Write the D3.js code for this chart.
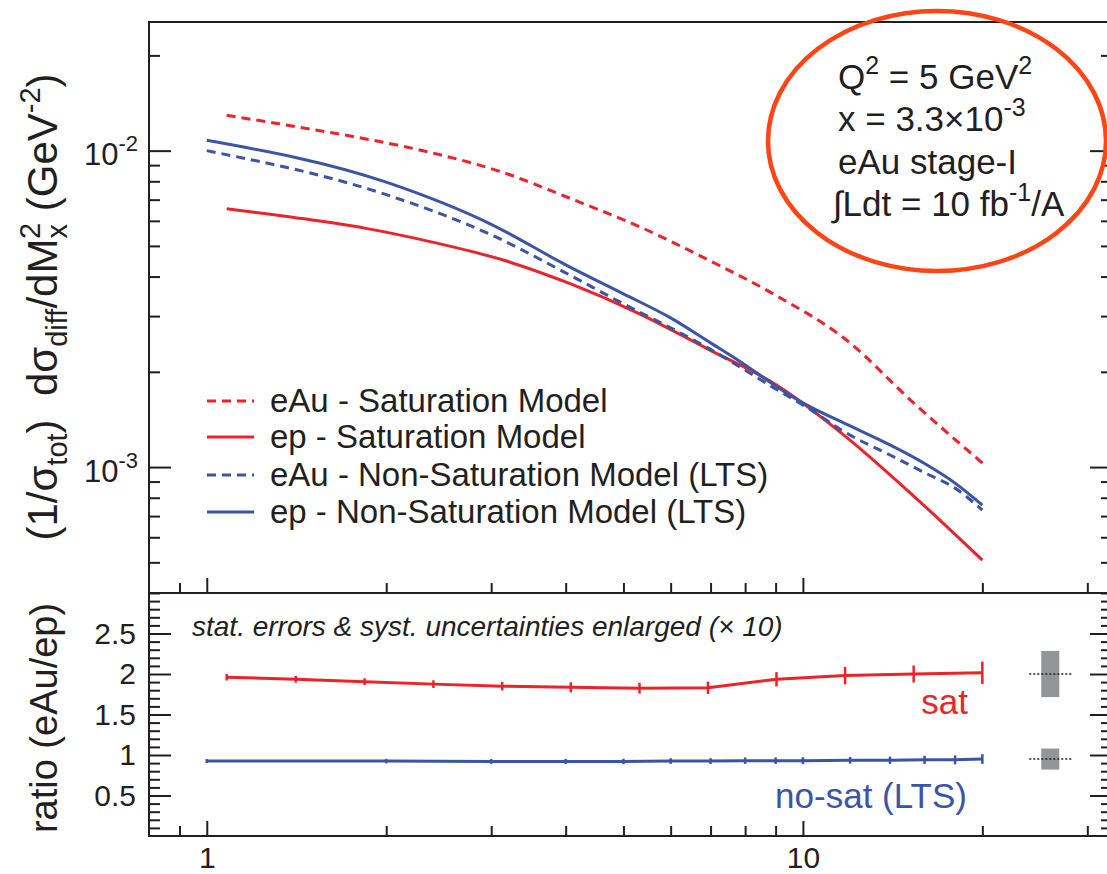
<!DOCTYPE html>
<html>
<head>
<meta charset="utf-8">
<script src="https://cdn.jsdelivr.net/npm/d3@7"></script>
<style>
  html, body { margin: 0; padding: 0; background: #fff; }
  svg { display: block; font-family: "Liberation Sans", Arial, Helvetica, sans-serif; }
  .pre { white-space: pre; }
</style>
</head>
<body>
<svg id="chart" width="1107" height="874"></svg>
<script>
// ---- Diffractive mass spectrum, Q^2 = 5 GeV^2, x = 3.3e-3 ----
// Saturation-model curves are sampled on log-spaced M_X^2 bins
const massSat = [1.08, 1.41, 1.84, 2.40, 3.13, 4.08, 5.32, 6.93, 9.03, 11.77, 15.34, 20];
const eAuSat  = [0.01293, 0.01191, 0.01091, 0.00982, 0.00855, 0.00705, 0.00575, 0.00452, 0.00348, 0.00254, 0.001594, 0.00103];
const epSat   = [0.00655, 0.00614, 0.00569, 0.00513, 0.00452, 0.00379, 0.00305, 0.00236, 0.001817, 0.001253, 0.00081, 0.000508];

// Non-saturation (LTS) curves
const massNoSat = [1, 2, 3, 4, 5, 6, 7, 8, 9, 10, 12, 14, 16, 18, 20];
const eAuNoSat  = [0.0100, 0.00726, 0.00542, 0.00411, 0.00328, 0.002754, 0.002354, 0.002023, 0.001766, 0.001571, 0.001262, 0.001092, 0.00096, 0.000858, 0.000731];
const epNoSat   = [0.01078, 0.00795, 0.00585, 0.004357, 0.003527, 0.002961, 0.002469, 0.002103, 0.001804, 0.001595, 0.001349, 0.001175, 0.001026, 0.00089, 0.000758];

// eAu/ep ratios with enlarged (x10) errors
const ratioSat      = [1.96, 1.935, 1.905, 1.875, 1.85, 1.835, 1.825, 1.83, 1.935, 1.98, 2.0, 2.015];
const ratioSatErr   = [0.04, 0.042, 0.042, 0.047, 0.053, 0.062, 0.066, 0.076, 0.088, 0.108, 0.105, 0.138];
const ratioNoSat    = [0.925, 0.925, 0.92, 0.92, 0.92, 0.925, 0.925, 0.93, 0.93, 0.93, 0.935, 0.935, 0.94, 0.94, 0.95];
const ratioNoSatErr = [0.025, 0.028, 0.03, 0.032, 0.033, 0.035, 0.035, 0.04, 0.04, 0.042, 0.042, 0.045, 0.05, 0.055, 0.06];

// systematic-uncertainty boxes drawn beside the ratios
const sysCenter = [2.0, 0.95];
const sysHalf   = [0.285, 0.13];
const sysMass   = 26;

// tick values
const xMajor = [1, 10];
const xMinor = [0.9, 2, 3, 4, 5, 6, 7, 8, 9, 20, 30];
const yMajor = [1e-3, 1e-2];
const yMinor = [4e-4, 5e-4, 6e-4, 7e-4, 8e-4, 9e-4, 2e-3, 3e-3, 4e-3, 5e-3, 6e-3, 7e-3, 8e-3, 9e-3, 2e-2];
const rMajor = [0.5, 1, 1.5, 2, 2.5];
const rMinor = [0.1,0.2,0.3,0.4,0.6,0.7,0.8,0.9,1.1,1.2,1.3,1.4,1.6,1.7,1.8,1.9,2.1,2.2,2.3,2.4,2.6,2.7,2.8,2.9];

const legendLabels = ["eAu - Saturation Model", "ep - Saturation Model",
                      "eAu - Non-Saturation Model (LTS)", "ep - Non-Saturation Model (LTS)"];

const RED = "#ee2229", BLUE = "#3b54a5", INK = "#231f20", ORANGE = "#ff4416", GREY = "#939598";

const svg = d3.select("#chart");
svg.append("rect").attr("width", 1107).attr("height", 874).attr("fill", "#fff");

const L = 149, R = 1112, T = 22, M = 593, B = 836;
const x  = d3.scaleLog().domain([0.8, 33]).range([L, R]);
const y  = d3.scaleLog().domain([4e-4, 0.0255]).range([M, T]);
const yr = d3.scaleLinear().domain([0, 3]).range([B, M]);

// ---------- upper panel curves ----------
const curve = (xs, ys) => d3.line().curve(d3.curveMonotoneX)
  .x((d, i) => x(xs[i])).y(d => y(d))(ys);

const series = [
  { xs: massSat,   ys: eAuSat,   color: RED,  dash: "9,6" },
  { xs: massSat,   ys: epSat,    color: RED,  dash: null },
  { xs: massNoSat, ys: eAuNoSat, color: BLUE, dash: "9,6" },
  { xs: massNoSat, ys: epNoSat,  color: BLUE, dash: null }
];
series.forEach(s => {
  svg.append("path").attr("d", curve(s.xs, s.ys))
    .attr("fill", "none").attr("stroke", s.color).attr("stroke-width", 3)
    .attr("stroke-dasharray", s.dash);
});

// ---------- ratio panel ----------
const rline = (xs, ys) => d3.line().x((d, i) => x(xs[i])).y(d => yr(d))(ys);
function ratioSeries(xs, ys, errs, color) {
  svg.append("path").attr("d", rline(xs, ys)).attr("fill", "none")
    .attr("stroke", color).attr("stroke-width", 3);
  svg.append("g").selectAll("line").data(ys).join("line")
    .attr("x1", (d, i) => x(xs[i])).attr("x2", (d, i) => x(xs[i]))
    .attr("y1", (d, i) => yr(d - errs[i])).attr("y2", (d, i) => yr(d + errs[i]))
    .attr("stroke", color).attr("stroke-width", 2.5);
}
ratioSeries(massSat, ratioSat, ratioSatErr, RED);
ratioSeries(massNoSat, ratioNoSat, ratioNoSatErr, BLUE);

sysCenter.forEach((c, i) => {
  svg.append("rect")
    .attr("x", x(sysMass) - 9).attr("width", 18)
    .attr("y", yr(c + sysHalf[i])).attr("height", yr(c - sysHalf[i]) - yr(c + sysHalf[i]))
    .attr("fill", GREY);
  svg.append("line")
    .attr("x1", x(sysMass) - 21).attr("x2", x(sysMass) + 21)
    .attr("y1", yr(c)).attr("y2", yr(c))
    .attr("stroke", INK).attr("stroke-width", 1.5).attr("stroke-dasharray", "2,2");
});

// ---------- frame and axes ----------
const frame = svg.append("g").attr("fill", "none").attr("stroke", INK).attr("stroke-width", 2);
frame.append("rect").attr("x", L).attr("y", T).attr("width", R - L).attr("height", B - T);
frame.append("line").attr("x1", L).attr("x2", R).attr("y1", M).attr("y2", M);

function ticks(axis, tx, ty) {
  const g = svg.append("g").attr("transform", `translate(${tx},${ty})`).call(axis);
  g.select(".domain").remove();
  g.selectAll(".tick line").attr("stroke", INK).attr("stroke-width", 2);
  g.selectAll("text").attr("fill", INK).attr("font-family", null);
  return g;
}

// x ticks along both panels
[M, B].forEach(yy => {
  ticks(d3.axisBottom(x).tickValues(xMinor).tickSize(-10).tickFormat(""), 0, yy);
});
ticks(d3.axisBottom(x).tickValues(xMajor).tickSize(-15).tickFormat(""), 0, M);
const xLab = ticks(d3.axisBottom(x).tickValues(xMajor).tickSize(-15).tickPadding(11)
  .tickFormat(d3.format("d")), 0, B);
xLab.selectAll("text").attr("font-size", 30);

// y ticks of the spectrum panel (left and right)
ticks(d3.axisLeft(y).tickValues(yMinor).tickSize(-11).tickFormat(""), L, 0);
ticks(d3.axisRight(y).tickValues(yMinor).tickSize(-11).tickFormat(""), R, 0);
ticks(d3.axisRight(y).tickValues(yMajor).tickSize(-22).tickFormat(""), R, 0);
const yLab = ticks(d3.axisLeft(y).tickValues(yMajor).tickSize(-22).tickPadding(11)
  .tickFormat(""), L, 0);
yLab.selectAll("text").each(function (d) {
  const t = d3.select(this).attr("font-size", 31).attr("dy", "0.45em");
  t.append("tspan").text("10");
  t.append("tspan").attr("font-size", 22).attr("dy", "-0.62em").text(String(Math.round(Math.log10(d))));
});

// y ticks of the ratio panel
ticks(d3.axisLeft(yr).tickValues(rMinor).tickSize(-11).tickFormat(""), L, 0);
ticks(d3.axisRight(yr).tickValues(rMinor).tickSize(-11).tickFormat(""), R, 0);
ticks(d3.axisRight(yr).tickValues(rMajor).tickSize(-22).tickFormat(""), R, 0);
const rLab = ticks(d3.axisLeft(yr).tickValues(rMajor).tickSize(-22).tickPadding(13)
  .tickFormat(d3.format("")), L, 0);
rLab.selectAll("text").attr("font-size", 30);

// ---------- axis titles ----------
const yt = svg.append("text").attr("class", "pre").attr("transform", "translate(57,307) rotate(-90)")
  .attr("text-anchor", "middle").attr("font-size", 42).attr("fill", INK);
yt.append("tspan").text("(1/σ");
yt.append("tspan").attr("font-size", 29).attr("dy", 10).text("tot");
yt.append("tspan").attr("dy", -10).text(")  dσ");
yt.append("tspan").attr("font-size", 29).attr("dy", 10).text("diff");
yt.append("tspan").attr("dy", -10).text("/dM");
yt.append("tspan").attr("font-size", 29).attr("dy", 10).text("x");
yt.append("tspan").attr("font-size", 29).attr("dx", -15).attr("dy", -27).text("2");
yt.append("tspan").attr("dy", 17).text(" (GeV");
yt.append("tspan").attr("font-size", 29).attr("dy", -17).text("-2");
yt.append("tspan").attr("dy", 17).text(")");

svg.append("text").attr("transform", "translate(57,718) rotate(-90)")
  .attr("text-anchor", "middle").attr("font-size", 38).attr("fill", INK)
  .text("ratio (eAu/ep)");

// ---------- legend ----------
const legRows = [401, 437, 475, 512];
series.forEach((s, i) => {
  svg.append("line").attr("x1", 207).attr("x2", 254)
    .attr("y1", legRows[i]).attr("y2", legRows[i])
    .attr("stroke", s.color).attr("stroke-width", 3).attr("stroke-dasharray", s.dash);
  svg.append("text").attr("x", 270).attr("y", legRows[i] + 11)
    .attr("font-size", 33).attr("fill", INK).text(legendLabels[i]);
});

// ---------- kinematics annotation ----------
svg.append("ellipse").attr("cx", 937).attr("cy", 141).attr("rx", 169).attr("ry", 130)
  .attr("fill", "none").attr("stroke", ORANGE).attr("stroke-width", 4.5);
const ann = svg.append("g").attr("font-size", 35).attr("fill", INK);
let t = ann.append("text").attr("x", 838).attr("y", 89);
t.append("tspan").text("Q");
t.append("tspan").attr("font-size", 25).attr("dy", -15).text("2");
t.append("tspan").attr("dy", 15).text(" = 5 GeV");
t.append("tspan").attr("font-size", 25).attr("dy", -15).text("2");
t = ann.append("text").attr("x", 838).attr("y", 131);
t.append("tspan").text("x = 3.3×10");
t.append("tspan").attr("font-size", 25).attr("dy", -15).text("-3");
ann.append("text").attr("x", 838).attr("y", 174).text("eAu stage-I");
t = ann.append("text").attr("x", 833).attr("y", 216);
t.append("tspan").text("∫Ldt = 10 fb");
t.append("tspan").attr("font-size", 25).attr("dy", -15).text("-1");
t.append("tspan").attr("dy", 15).text("/A");

// ---------- ratio panel texts ----------
svg.append("text").attr("x", 192).attr("y", 636).attr("font-size", 28)
  .attr("font-style", "italic").attr("fill", INK)
  .text("stat. errors & syst. uncertainties enlarged (× 10)");
svg.append("text").attr("x", 968).attr("y", 714).attr("text-anchor", "end")
  .attr("font-size", 35).attr("fill", RED).text("sat");
svg.append("text").attr("x", 967).attr("y", 808).attr("text-anchor", "end")
  .attr("font-size", 35).attr("fill", BLUE).text("no-sat (LTS)");
</script>
</body>
</html>
